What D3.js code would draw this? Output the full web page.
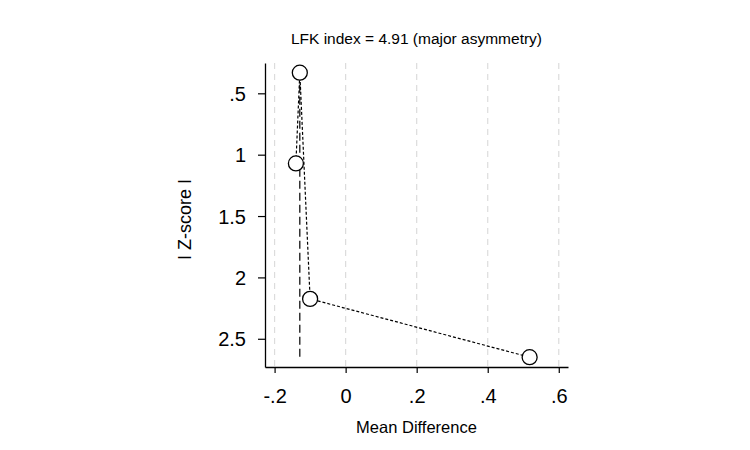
<!DOCTYPE html>
<html>
<head>
<meta charset="utf-8">
<script src="https://cdn.jsdelivr.net/npm/d3@7"></script>
<style>
  body { margin: 0; background: #fff; }
  text { font-family: "Liberation Sans", Arial, Helvetica, sans-serif; }
</style>
</head>
<body>
<div id="chart-area"></div>
<script>
// study effect sizes and |Z| scores
var effect = [-0.129, -0.140, -0.100, 0.518];
var zscore = [0.332, 1.071, 2.175, 2.650];
var xTicks = [-0.2, 0, 0.2, 0.4, 0.6];
var yTicks = [0.5, 1, 1.5, 2, 2.5];
var title = "LFK index = 4.91 (major asymmetry)";

var margin = { top: 63, right: 182, bottom: 83, left: 265 };
var width = 750 - margin.left - margin.right;
var height = 450 - margin.top - margin.bottom;

var svg = d3.select("#chart-area").append("svg")
    .attr("width", 750)
    .attr("height", 450);

var g = svg.append("g")
    .attr("transform", "translate(" + margin.left + ", " + margin.top + ")");

var x = d3.scaleLinear()
    .domain([-0.227, 0.626])
    .range([0, width]);

var y = d3.scaleLinear()
    .domain([0.253, 2.73])
    .range([0, height]);

// stata style labels: .5, -.2
var fmt = function(d) {
    if (d === 0) return "0";
    var s = String(Math.abs(d)).replace(/^0\./, ".");
    return (d < 0 ? "-" : "") + s;
};

// grid
g.selectAll(".grid").data(xTicks).enter().append("line")
    .attr("class", "grid")
    .attr("x1", (d) => x(d)).attr("x2", (d) => x(d))
    .attr("y1", 0).attr("y2", height)
    .attr("stroke", "#dcdcdc")
    .attr("stroke-width", 1.2)
    .attr("stroke-dasharray", "6,5");

var points = effect.map((e, i) => ({ x: e, z: zscore[i] }));

// vertical line at the study with the smallest |Z|
var minPt = points.reduce((a, b) => (b.z < a.z ? b : a));
var maxZ = d3.max(zscore);
g.append("line")
    .attr("x1", x(minPt.x)).attr("x2", x(minPt.x))
    .attr("y1", y(minPt.z)).attr("y2", y(maxZ))
    .attr("stroke", "#000")
    .attr("stroke-width", 1.2)
    .attr("stroke-dasharray", "8,4");

// connecting line, sorted by effect
var sorted = points.slice().sort((a, b) => a.x - b.x);
g.append("path")
    .datum(sorted)
    .attr("fill", "none")
    .attr("stroke", "#000")
    .attr("stroke-width", 1.2)
    .attr("stroke-dasharray", "3,2")
    .attr("d", d3.line().x((d) => x(d.x)).y((d) => y(d.z)));

g.selectAll("circle").data(points).enter().append("circle")
    .attr("cx", (d) => x(d.x))
    .attr("cy", (d) => y(d.z))
    .attr("r", 7.5)
    .attr("fill", "#fff")
    .attr("stroke", "#000")
    .attr("stroke-width", 1.3);

// axes
var xAxis = g.append("g")
    .attr("transform", "translate(0," + height + ")")
    .call(d3.axisBottom(x).tickValues(xTicks).tickFormat(fmt).tickSize(6).tickSizeOuter(0));
var yAxis = g.append("g")
    .call(d3.axisLeft(y).tickValues(yTicks).tickFormat(fmt).tickSize(7).tickSizeOuter(0));

[xAxis, yAxis].forEach(function(a) {
    a.select(".domain").attr("stroke", "#000").attr("stroke-width", 1.3);
    a.selectAll(".tick line").attr("stroke", "#000").attr("stroke-width", 1.2);
    a.selectAll(".tick text")
        .attr("fill", "#000")
        .attr("font-size", "20px")
        .attr("font-family", "Liberation Sans, Arial, sans-serif");
});
xAxis.selectAll(".tick text").attr("y", 36).attr("dy", 0);
yAxis.selectAll(".tick text").attr("x", -19).attr("dy", "0.36em");

g.append("text")
    .attr("x", width / 2)
    .attr("y", -19)
    .attr("font-size", "15.5px")
    .attr("text-anchor", "middle")
    .text(title);

g.append("text")
    .attr("x", width / 2)
    .attr("y", height + 66)
    .attr("font-size", "16.5px")
    .attr("text-anchor", "middle")
    .text("Mean Difference");

g.append("text")
    .attr("x", -156.5)
    .attr("y", -74)
    .attr("font-size", "18px")
    .attr("text-anchor", "middle")
    .attr("transform", "rotate(-90)")
    .text("I Z-score I");
</script>
</body>
</html>
